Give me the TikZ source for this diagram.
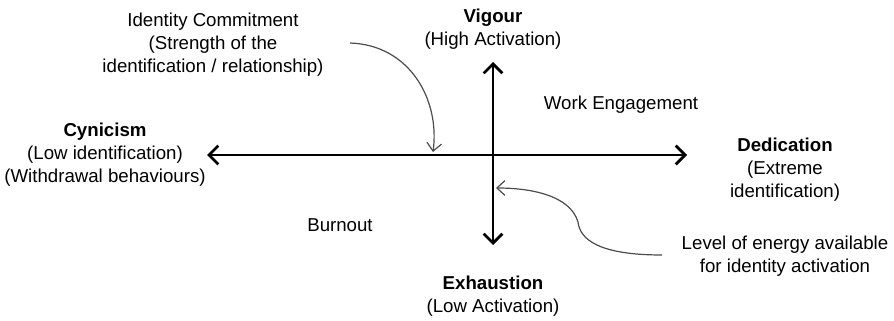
\documentclass[tikz,border=0pt]{standalone}
\usepackage{fontspec}
\setmainfont{Liberation Sans}
\usetikzlibrary{positioning,arrows.meta}

\begin{document}
\begin{tikzpicture}[x=0.75pt,y=-0.75pt,
    lbl/.style={align=center, font=\fontsize{14}{17.3}\selectfont, inner sep=0pt},
    axis/.style={line width=2pt, {Straight Barb[length=7pt,width=14pt]}-{Straight Barb[length=7pt,width=14pt]}},
    pointer/.style={line width=0.9pt, draw=black!70, -{Straight Barb[length=6pt,width=11pt]}}]
        \useasboundingbox (0,0) rectangle (894,321);

        % Axes end points
        \coordinate (W) at (207,155);
        \coordinate (E) at (687,155);
        \coordinate (N) at (493,62);
        \coordinate (S) at (493,245);
        \draw[axis] (W) -- (E);
        \draw[axis] (N) -- (S);

        % Pole labels
        \node[lbl] (vig) at (493,29) {\textbf{Vigour}\\(High Activation)};
        \node[lbl] (exh) at (493,296) {\textbf{Exhaustion}\\(Low Activation)};
        \node[lbl] (cyn) at (105,155) {\textbf{Cynicism}\\(Low identification)\\(Withdrawal behaviours)};
        \node[lbl] (ded) at (785,170) {\textbf{Dedication}\\(Extreme\\identification)};

        % Quadrant labels
        \node[lbl] (eng) at (621,105) {Work Engagement};
        \node[lbl] (bur) at (340,225) {Burnout};

        % Annotations
        \node[lbl] (idc) at (213,45) {Identity Commitment\\(Strength of the\\identification / relationship)};
        \node[lbl] (lev) at (785,256) {Level of energy available\\for identity activation};

        \coordinate (p1s) at (350,43);
        \coordinate (p1e) at (433,152);
        \coordinate (p2s) at (662,255);
        \coordinate (p2m) at (578,222);
        \coordinate (p2e) at (496,188);
        \draw[pointer] (p1s) .. controls (410,45) and (440,100) .. (p1e);
        \draw[pointer] (p2s) .. controls (600,255) and (580,240) .. (p2m) .. controls (570,195) and (530,188) .. (p2e);
    \end{tikzpicture}
\end{document}
